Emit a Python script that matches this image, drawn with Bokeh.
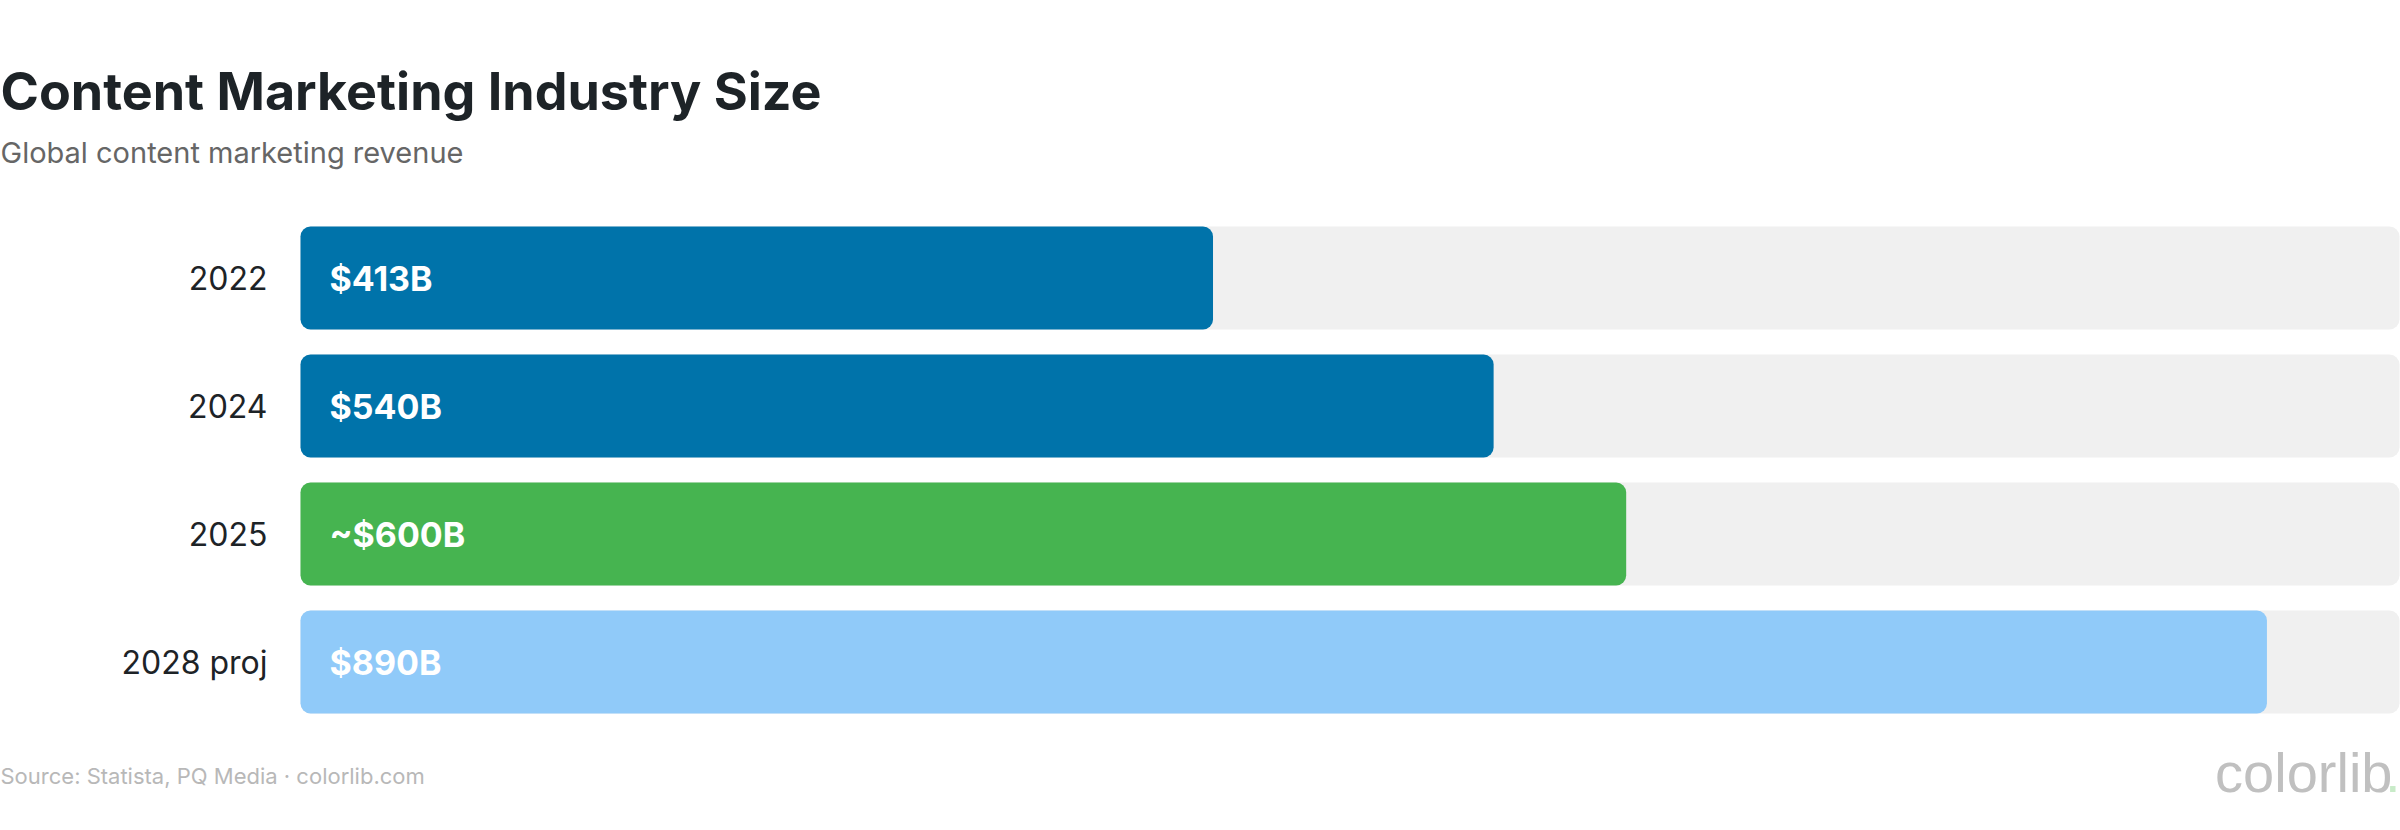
from bokeh.plotting import figure
from bokeh.models import Range1d, Label, ColumnDataSource
from bokeh.core.properties import value
from bokeh.embed import file_html
from bokeh.resources import INLINE

# ---- data ----
years = ["2022", "2024", "2025", "2028 proj"]
revenue = [413, 540, 600, 890]
value_labels = ["$413B", "$540B", "~$600B", "$890B"]
bar_colors = ["#0073AA", "#0073AA", "#46B450", "#90CAF9"]
scale_max = 950

title_text = "Content Marketing Industry Size"
subtitle_text = "Global content marketing revenue"
source_text = "Source: Statista, PQ Media \u00b7 colorlib.com"

# ---- layout (pixels) ----
W, H = 2400, 830
BAR_X0, BAR_X1 = 300, 2399      # where 0 and scale_max sit
ROW0_CY, ROW_PITCH = 277.5, 128  # centre of first row, row pitch
BAR_FRAC = 0.805
FONT = "Inter"

k = (BAR_X1 - BAR_X0) / scale_max
x_range = Range1d(-BAR_X0 / k, (W - BAR_X0) / k)
# rows counted downwards: row index i sits at ROW0_CY + i*ROW_PITCH
y_range = Range1d((H - ROW0_CY) / ROW_PITCH, -ROW0_CY / ROW_PITCH)

rows = list(range(len(years)))
src = ColumnDataSource(dict(row=rows, year=years, rev=revenue, lab=value_labels,
                            col=bar_colors, full=[scale_max] * len(years)))

p = figure(width=W, height=H, output_backend="svg", toolbar_location=None,
           x_range=x_range, y_range=y_range,
           min_border=0, background_fill_color="white", border_fill_color="white",
           outline_line_color=None)
p.xgrid.visible = False
p.ygrid.visible = False
p.axis.visible = False

# tracks
p.hbar(y="row", left=0, right="full", height=BAR_FRAC, source=src,
       fill_color="#F0F0F0", line_color=None, border_radius=10)
# bars
p.hbar(y="row", left=0, right="rev", height=BAR_FRAC, source=src,
       fill_color="col", line_color=None, border_radius=10)
# value labels
p.text(x=0, y="row", text="lab", source=src, x_offset=29,
       text_font=value(FONT), text_font_size="34px", text_font_style="bold",
       text_color="white", text_baseline="middle", text_align="left")
# category labels
p.text(x=0, y="row", text="year", source=src, x_offset=-33,
       text_font=value(FONT), text_font_size="32px",
       text_color="#1d2327", text_baseline="middle", text_align="right")

def lab(text, cx, cy, size, color, style="normal", align="left", font=FONT):
    # cx, cy: canvas pixels from the top-left corner (cy = visual middle of the text)
    p.add_layout(Label(x=cx, y=H - cy, x_units="screen", y_units="screen",
                       text=text, text_font=font, text_font_size=size, text_font_style=style,
                       text_color=color, text_align=align, text_baseline="middle"))

lab(title_text, 0, 91, "52px", "#1d2327", "bold")
lab(subtitle_text, 0, 152, "29px", "#666666")
lab(source_text, 0, 775, "22px", "#b8b8b8")
lab("colorlib", 2392, 772, "56px", "#c0c0c0", align="right", font="Liberation Sans")
lab(".", 2400, 772, "56px", "#c8ebc8", align="right", font="Liberation Sans")

open("out.html", "w").write(file_html(p, INLINE))
